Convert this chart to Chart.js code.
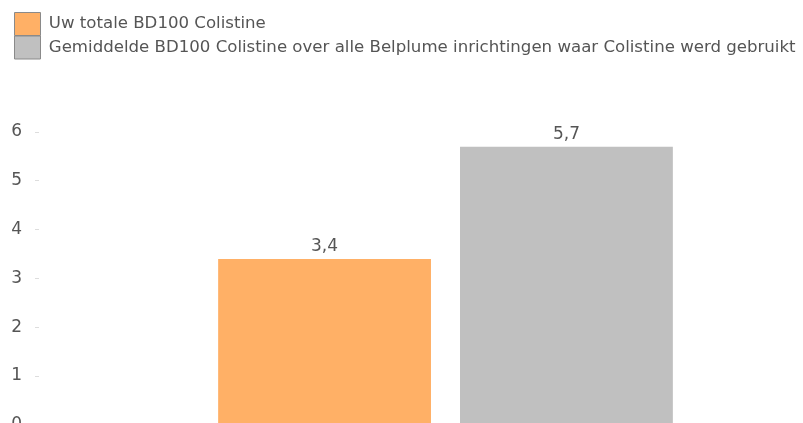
<!DOCTYPE html>
<html>
<head>
<meta charset="utf-8">
<script src="https://cdn.jsdelivr.net/npm/chart.js@4.4.0/dist/chart.umd.min.js"></script>
<style>
  html, body { margin: 0; padding: 0; background: #fff; overflow: hidden; }
  #wrap { width: 803px; height: 423px; overflow: hidden; position: relative; }
  #box { width: 860px; height: 448px; position: absolute; left: 0; top: 0; }
</style>
</head>
<body>
<div id="wrap"><div id="box"><canvas id="c"></canvas></div></div>
<script>
const categories = [''];
const seriesNames = ['Uw totale BD100 Colistine', 'Gemiddelde BD100 Colistine over alle Belplume inrichtingen waar Colistine werd gebruikt'];
const ownValues = [3.4];
const avgValues = [5.7];
const seriesColors = ['#FFB066', '#C0C0C0'];
const yTicks = [0, 1, 2, 3, 4, 5, 6];

const textColor = '#555555';
const fontFamily = '"DejaVu Sans", Verdana, sans-serif';

const valueLabels = {
  id: 'valueLabels',
  afterDatasetsDraw(chart) {
    const ctx = chart.ctx;
    ctx.save();
    ctx.font = '17px ' + fontFamily;
    ctx.fillStyle = textColor;
    ctx.textAlign = 'center';
    ctx.textBaseline = 'bottom';
    chart.data.datasets.forEach((ds, i) => {
      chart.getDatasetMeta(i).data.forEach((bar, j) => {
        const v = ds.data[j];
        ctx.fillText(String(v).replace('.', ','), bar.x, bar.y - 4);
      });
    });
    ctx.restore();
  }
};

const legendSpace = {
  id: 'legendSpace',
  beforeInit(chart) {
    const lg = chart.legend;
    const origFit = lg.fit;
    lg.fit = function () {
      origFit.call(this);
      this.height = 120;
    };
    const origDraw = lg.draw;
    lg.draw = function () {
      const ctx = this.ctx;
      ctx.save();
      ctx.translate(14, 0);
      origDraw.call(this);
      ctx.restore();
    };
  }
};

new Chart(document.getElementById('c'), {
  type: 'bar',
  data: {
    labels: categories,
    datasets: [
      { label: seriesNames[0], data: ownValues, backgroundColor: seriesColors[0], borderWidth: 0 },
      { label: seriesNames[1], data: avgValues, backgroundColor: seriesColors[1], borderWidth: 0 }
    ]
  },
  options: {
    responsive: true,
    maintainAspectRatio: false,
    animation: false,
    layout: { padding: { left: 0, top: 12, right: 8, bottom: 0 } },
    datasets: { bar: { categoryPercentage: 0.595, barPercentage: 0.88 } },
    plugins: {
      tooltip: { enabled: false },
      legend: {
        position: 'top',
        align: 'start',
        labels: {
          boxWidth: 26,
          boxHeight: 23,
          padding: 0.5,
          color: textColor,
          font: { family: fontFamily, size: 16.6 },
          generateLabels(chart) {
            return chart.data.datasets.map((ds, i) => ({
              text: ds.label,
              fillStyle: ds.backgroundColor,
              strokeStyle: '#8a8a8a',
              lineWidth: 1,
              fontColor: textColor,
              datasetIndex: i,
              hidden: false
            }));
          }
        }
      }
    },
    scales: {
      x: { display: false },
      y: {
        min: yTicks[0],
        max: yTicks[yTicks.length - 1],
        afterBuildTicks(scale) { scale.ticks = yTicks.map(v => ({ value: v })); },
        afterFit(scale) { scale.width = 39; },
        border: { display: false },
        grid: { drawOnChartArea: false, drawTicks: true, tickLength: 4, color: '#dddddd' },
        ticks: {
          padding: 13,
          color: textColor,
          font: { family: fontFamily, size: 17 }
        }
      }
    }
  },
  plugins: [valueLabels, legendSpace]
});
</script>
</body>
</html>
